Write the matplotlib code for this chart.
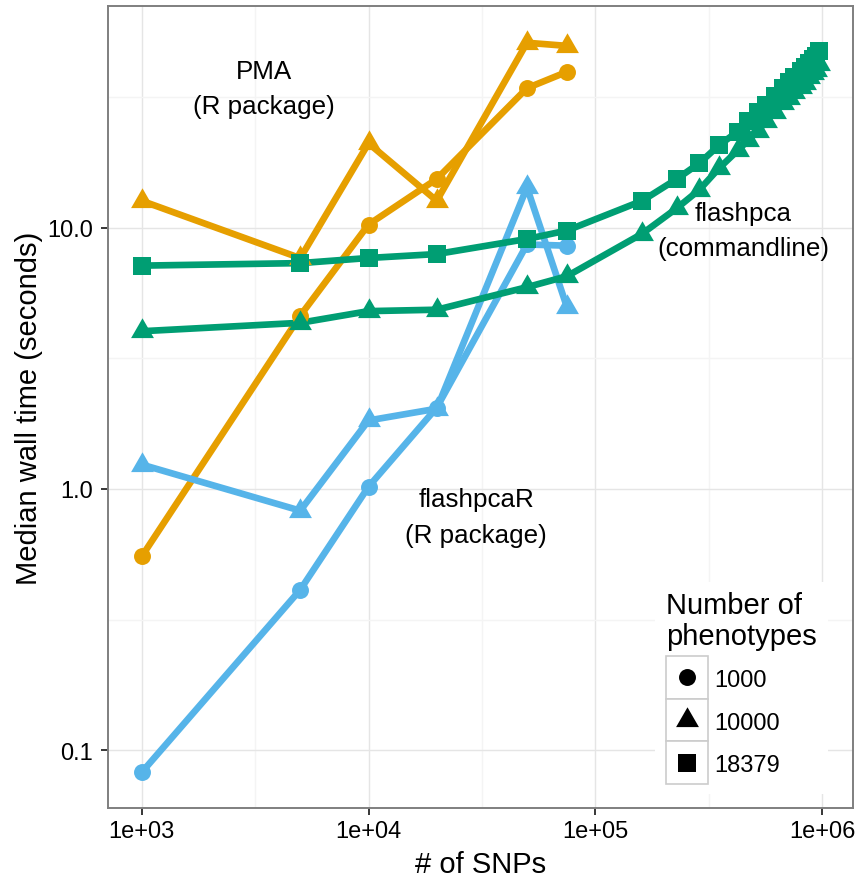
import matplotlib
matplotlib.use("Agg")
import matplotlib.pyplot as plt
from matplotlib.patches import Rectangle

plt.rcParams['font.family'] = ['Liberation Sans', 'DejaVu Sans']

# ---------------- data ----------------
snps_small = [1000, 5000, 10000, 20000, 50000, 75000]

pma_1000 = [0.552, 4.61, 10.3, 15.4, 34.3, 39.6]
pma_10000 = [12.7, 7.66, 21.1, 12.7, 51.2, 49.8]

flashpcaR_1000 = [0.0822, 0.411, 1.02, 2.05, 8.64, 8.55]
flashpcaR_10000 = [1.24, 0.826, 1.83, 2.03, 14.3, 4.98]

snps_large = [161000, 229000, 288000, 351000, 425000, 474000, 524000, 568000,
              619000, 675000, 714000, 751000, 810000, 843000, 879000, 910000,
              942000, 968000]
flashpca_18379 = [7.17, 7.33, 7.67, 7.94, 9.07, 9.77,
                  12.7, 15.4, 17.7, 20.7, 23.4, 25.6, 27.7, 29.6, 31.9, 34.2,
                  36.1, 37.9, 39.8, 41.4, 42.9, 44.2, 45.6, 47.6]
flashpca_10000 = [4.02, 4.33, 4.80, 4.86, 5.93, 6.53,
                  9.5, 11.9, 14.0, 16.9, 19.8, 21.7, 23.6, 25.7, 27.7, 30.0,
                  31.5, 33.2, 34.7, 35.9, 37.9, 39.3, 40.3, 42.3]
snps_flashpca = snps_small + snps_large

phenotype_labels = ["1000", "10000", "18379"]
x_tick_values = [1e3, 1e4, 1e5, 1e6]
x_tick_labels = ["1e+03", "1e+04", "1e+05", "1e+06"]
y_tick_values = [0.1, 1.0, 10.0]
y_tick_labels = ["0.1", "1.0", "10.0"]

# ---------------- styles ----------------
C_PMA = "#E69F00"
C_R = "#56B4E9"
C_CL = "#009E73"
LW = 4.8
# R-style triangle (centroid at the data point)
TRI = [(0, 1.5551), (1.3468, -0.7776), (-1.3468, -0.7776), (0, 1.5551)]
MS = {"o": 12.2, "tri": 19.0, "s": 12.6}

W, H = 859, 878
fig = plt.figure(figsize=(W / 100, H / 100), dpi=100)
L, R, T, B = 108, 853, 7, 809
ax = fig.add_axes([L / W, 1 - B / H, (R - L) / W, (B - T) / H])
ax.set_xscale("log")
ax.set_yscale("log")
ax.set_xlim(10 ** 2.851, 10 ** 6.137)
ax.set_ylim(10 ** -1.222, 10 ** 1.85)

series = [
    (snps_small, pma_1000, C_PMA, "o"),
    (snps_small, pma_10000, C_PMA, "tri"),
    (snps_small, flashpcaR_1000, C_R, "o"),
    (snps_small, flashpcaR_10000, C_R, "tri"),
    (snps_flashpca, flashpca_10000, C_CL, "tri"),
    (snps_flashpca, flashpca_18379, C_CL, "s"),
]
for xs, ys, c, m in series:
    ax.plot(xs, ys, color=c, lw=LW, solid_capstyle="butt", zorder=2)
for xs, ys, c, m in series:
    mk = TRI if m == "tri" else m
    ax.plot(xs, ys, ls="none", marker=mk, ms=MS[m], color=c,
            markeredgewidth=0, zorder=3)

# grid
ax.set_xticks(x_tick_values)
ax.set_xticklabels(x_tick_labels)
ax.set_yticks(y_tick_values)
ax.set_yticklabels(y_tick_labels)
ax.set_xticks([10 ** 3.5, 10 ** 4.5, 10 ** 5.5], minor=True)
ax.set_yticks([10 ** -0.5, 10 ** 0.5, 10 ** 1.5], minor=True)
ax.xaxis.set_minor_formatter(plt.NullFormatter())
ax.yaxis.set_minor_formatter(plt.NullFormatter())
ax.grid(True, which="major", color="#E5E5E5", lw=1.0, zorder=0)
ax.grid(True, which="minor", color="#F4F4F4", lw=1.0, zorder=0)
ax.set_axisbelow(True)
ax.tick_params(which="minor", length=0)
ax.tick_params(which="major", length=5, width=1.1, color="black",
               labelsize=17, labelcolor="black", direction="out")
ax.tick_params(axis="x", pad=4)
ax.tick_params(axis="y", pad=6)
for s in ax.spines.values():
    s.set_color("#7F7F7F")
    s.set_linewidth(1.4)

# annotations
ax.text(3.45e3, 34.2, "PMA\n(R package)", ha="center", va="center",
        multialignment="center", fontsize=18.7, linespacing=1.62, zorder=4)
ax.text(2.98e4, 0.781, "flashpcaR\n(R package)", ha="center", va="center",
        multialignment="center", fontsize=18.7, linespacing=1.62, zorder=4)
ax.text(4.49e5, 9.78, "flashpca\n(commandline)", ha="center", va="center",
        multialignment="center", fontsize=18.7, linespacing=1.62, zorder=4)

# axis titles
fig.text(480.5 / W, 1 - 873 / H, "# of SNPs", ha="center", va="baseline",
         fontsize=21)
fig.text(29 / W, 1 - 408 / H, "Median wall time (seconds)", ha="center",
         va="center", rotation=90, fontsize=21)

# legend (manual, ggplot-like)
def af(px, py):
    return ((px - L) / (R - L), (B - py) / (B - T))

x0, y0 = af(655, 795)
x1, y1 = af(828, 583)
ax.add_patch(Rectangle((x0, y0), x1 - x0, y1 - y0, transform=ax.transAxes,
                       facecolor="white", edgecolor="none", zorder=5))
tx, ty = af(666.5, 614.5)
ax.text(tx, ty, "Number of", transform=ax.transAxes, ha="left",
        va="baseline", fontsize=21, zorder=6)
tx, ty = af(666.5, 645)
ax.text(tx, ty, "phenotypes", transform=ax.transAxes, ha="left",
        va="baseline", fontsize=21, zorder=6)
key_markers = ["o", "tri", "s"]
for i, (lab, m) in enumerate(zip(phenotype_labels, key_markers)):
    top = 657 + i * 42.7
    bx, by = af(666, top + 42.7)
    bx2, by2 = af(708, top)
    ax.add_patch(Rectangle((bx, by), bx2 - bx, by2 - by, transform=ax.transAxes,
                           facecolor="white", edgecolor="#CCCCCC", lw=1.2,
                           zorder=6))
    cx, cy = af(687, top + 21.35)
    mk = TRI if m == "tri" else m
    ax.plot([cx], [cy], transform=ax.transAxes, ls="none", marker=mk,
            ms=MS[m], color="black", markeredgewidth=0, zorder=7,
            clip_on=False)
    lx, ly = af(714, top + 21.35 + 8.5)
    ax.text(lx, ly, lab, transform=ax.transAxes, ha="left", va="baseline",
            fontsize=17, zorder=7)

fig.savefig("out.png", dpi=100, facecolor="white")
